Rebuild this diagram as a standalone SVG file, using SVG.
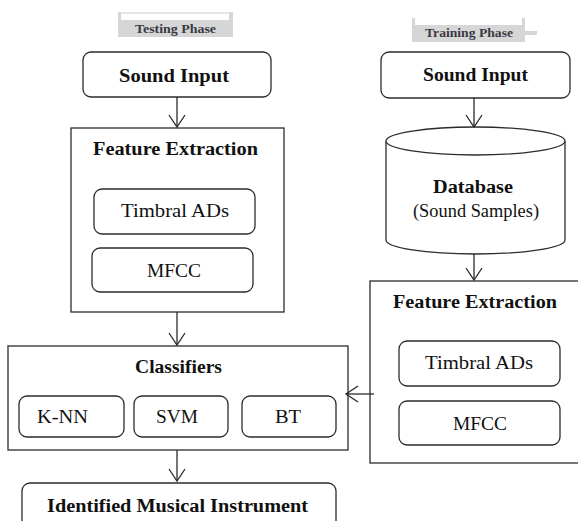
<svg xmlns="http://www.w3.org/2000/svg" width="578" height="521" viewBox="0 0 578 521">
  <defs>
    <style>
      .box { fill: #fff; stroke: #2b2b2b; stroke-width: 1.3; }
      .frame { fill: #fff; stroke: #2b2b2b; stroke-width: 1.3; }
      .edge { fill: none; stroke: #2b2b2b; stroke-width: 1.3; marker-end: url(#vee); }
      .title { font-family: "Liberation Serif", "Times New Roman", serif; font-weight: bold; font-size: 18px; fill: #111; text-anchor: middle; }
      .label { font-family: "Liberation Serif", "Times New Roman", serif; font-size: 18px; fill: #111; text-anchor: middle; }
      .phase-bg { fill: #d6d6d6; }
      .phase { font-family: "Liberation Serif", "Times New Roman", serif; font-weight: bold; font-size: 12px; fill: #3a3a44; }
    </style>
    <marker id="vee" markerUnits="userSpaceOnUse" orient="auto" markerWidth="20" markerHeight="20" refX="0" refY="0" viewBox="-14 -10 16 20" overflow="visible">
      <path d="M-12,-8 L0,0 L-12,8" fill="none" stroke="#2b2b2b" stroke-width="1.3"/>
    </marker>
  </defs>

  <!-- phase headers -->
  <g id="testing-phase">
    <path class="phase-bg" d="M118,12 L121,12 L121,20 L229,20 L229,12 L233,12 L233,37 L118,37 Z"/>
    <path d="M121,13 L229,13" stroke="#e6e6e6" stroke-width="2"/>
    <text class="phase" x="135" y="33" textLength="81" lengthAdjust="spacingAndGlyphs">Testing Phase</text>
  </g>
  <g id="training-phase">
    <path class="phase-bg" d="M412,18 L415,18 L415,25 L522,25 L522,18 L525,18 L525,31 L537,31 L537,35 L525,35 L525,42 L412,42 Z"/>
    <text class="phase" x="425" y="37" textLength="88" lengthAdjust="spacingAndGlyphs">Training Phase</text>
  </g>

  <!-- testing column -->
  <g id="test-sound-input">
    <rect class="box" x="83" y="52" width="188" height="45" rx="8"/>
    <text class="title" x="174" y="82" textLength="110" lengthAdjust="spacingAndGlyphs">Sound Input</text>
  </g>
  <g id="test-feature-extraction">
    <rect class="frame" x="71" y="128" width="213" height="184"/>
    <text class="title" x="175.5" y="155" textLength="165" lengthAdjust="spacingAndGlyphs">Feature Extraction</text>
  </g>
  <g id="test-timbral">
    <rect class="box" x="94" y="189" width="161" height="45" rx="8"/>
    <text class="label" x="175" y="217" textLength="108" lengthAdjust="spacingAndGlyphs">Timbral ADs</text>
  </g>
  <g id="test-mfcc">
    <rect class="box" x="92" y="248" width="161" height="44" rx="8"/>
    <text class="label" x="174" y="277" textLength="54" lengthAdjust="spacingAndGlyphs">MFCC</text>
  </g>

  <g id="classifiers">
    <rect class="frame" x="8" y="346" width="340" height="104"/>
    <text class="title" x="178.5" y="373" textLength="87" lengthAdjust="spacingAndGlyphs">Classifiers</text>
  </g>
  <g id="knn">
    <rect class="box" x="19" y="396" width="105" height="41" rx="8"/>
    <text class="label" x="62.5" y="423" textLength="51" lengthAdjust="spacingAndGlyphs">K-NN</text>
  </g>
  <g id="svm">
    <rect class="box" x="134" y="396" width="94" height="41" rx="8"/>
    <text class="label" x="177" y="423" textLength="42" lengthAdjust="spacingAndGlyphs">SVM</text>
  </g>
  <g id="bt">
    <rect class="box" x="242" y="396" width="94" height="41" rx="8"/>
    <text class="label" x="288" y="423" textLength="26" lengthAdjust="spacingAndGlyphs">BT</text>
  </g>
  <g id="identified">
    <rect class="box" x="22" y="483" width="314" height="50" rx="8"/>
    <text class="title" x="177.5" y="512" textLength="261" lengthAdjust="spacingAndGlyphs">Identified Musical Instrument</text>
  </g>

  <!-- training column -->
  <g id="train-sound-input">
    <rect class="box" x="381" y="52" width="189" height="46" rx="8"/>
    <text class="title" x="475.5" y="81" textLength="105" lengthAdjust="spacingAndGlyphs">Sound Input</text>
  </g>
  <g id="database">
    <path class="box" d="M386,141 L386,240 A89.5,14 0 0 0 565,240 L565,141"/>
    <ellipse class="box" cx="475.5" cy="141" rx="89.5" ry="14"/>
    <text class="title" x="473" y="193" textLength="80" lengthAdjust="spacingAndGlyphs">Database</text>
    <text class="label" x="476" y="217" textLength="126" lengthAdjust="spacingAndGlyphs">(Sound Samples)</text>
  </g>
  <g id="train-feature-extraction">
    <rect class="frame" x="370" y="281" width="230" height="182"/>
    <text class="title" x="475" y="308" textLength="164" lengthAdjust="spacingAndGlyphs">Feature Extraction</text>
  </g>
  <g id="train-timbral">
    <rect class="box" x="399" y="341" width="161" height="45" rx="8"/>
    <text class="label" x="479" y="369" textLength="108" lengthAdjust="spacingAndGlyphs">Timbral ADs</text>
  </g>
  <g id="train-mfcc">
    <rect class="box" x="399" y="401" width="161" height="44" rx="8"/>
    <text class="label" x="480" y="430" textLength="54" lengthAdjust="spacingAndGlyphs">MFCC</text>
  </g>

  <!-- connectors -->
  <g id="connectors">
    <line class="edge" x1="177" y1="97" x2="177" y2="127"/>
    <line class="edge" x1="177" y1="312" x2="177" y2="345"/>
    <line class="edge" x1="177" y1="450" x2="177" y2="481"/>
    <line class="edge" x1="474" y1="98" x2="474" y2="127"/>
    <line class="edge" x1="474" y1="254" x2="474" y2="280"/>
    <line class="edge" x1="374" y1="394" x2="346" y2="394"/>
  </g>
</svg>
